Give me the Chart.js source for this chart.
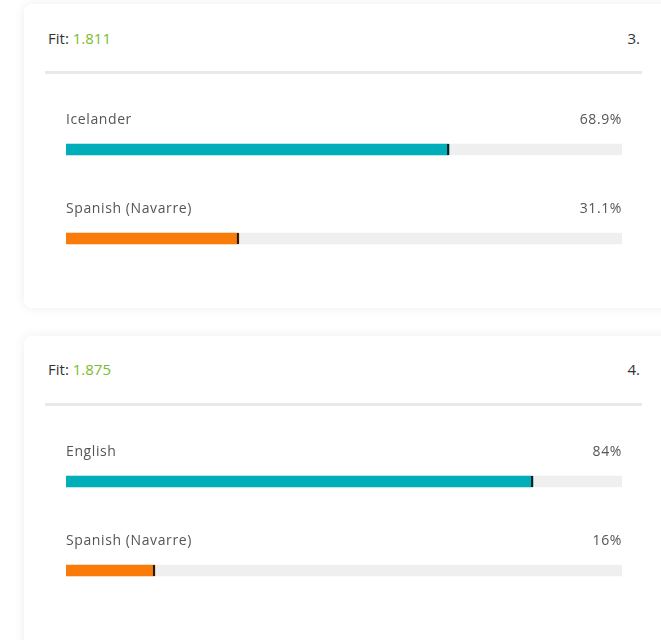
<!DOCTYPE html>
<html>
<head>
<meta charset="utf-8">
<script src="https://cdn.jsdelivr.net/npm/chart.js@4"></script>
<style>
  html, body { margin: 0; padding: 0; background: #fff; overflow: hidden; }
  body { width: 661px; height: 640px; position: relative; font-family: "Open Sans", sans-serif; }
  .card {
    position: absolute; left: 24px; width: 680px; background: #fff;
    border-radius: 8px; box-shadow: 0 0 12px rgba(0, 0, 0, 0.07);
  }
  .fit { position: absolute; left: 48px; font-size: 15px; color: #333; line-height: 20px; }
  .fit span { color: #7cbb2e; }
  .rank { position: absolute; right: 21px; font-size: 15px; color: #333; line-height: 20px; }
  .divider { position: absolute; left: 45px; width: 597px; height: 3px; background: #e9e9e9; }
  .chart { position: absolute; left: 66px; width: 556px; height: 178px; }
</style>
</head>
<body>
<div class="card" style="top:4px;height:304px"></div>
<div class="card" style="top:336px;height:330px"></div>

<div class="fit" style="top:28px">Fit: <span id="fit1"></span></div>
<div class="rank" style="top:28px" id="rank1"></div>
<div class="divider" style="top:71px"></div>
<div class="chart" style="top:105px"><canvas id="chart1" width="556" height="178"></canvas></div>

<div class="fit" style="top:359px">Fit: <span id="fit2"></span></div>
<div class="rank" style="top:359px" id="rank2"></div>
<div class="divider" style="top:403px"></div>
<div class="chart" style="top:437px"><canvas id="chart2" width="556" height="178"></canvas></div>

<script>
  // card 3
  const fit1 = '1.811';
  const rank1 = '3.';
  const labels1 = ['Icelander', 'Spanish (Navarre)'];
  const values1 = [68.9, 31.1];

  // card 4
  const fit2 = '1.875';
  const rank2 = '4.';
  const labels2 = ['English', 'Spanish (Navarre)'];
  const values2 = [84, 16];

  const trackMax = 100;
  const barColors = ['#00aeb9', '#f97c0a'];

  // draws the name / percent above each bar and the black end marker
  const barLabels = {
    id: 'barLabels',
    afterDatasetsDraw(chart) {
      const ctx = chart.ctx;
      const area = chart.chartArea;
      const meta = chart.getDatasetMeta(1);
      const vals = chart.data.datasets[1].data;
      ctx.save();
      meta.data.forEach((bar, i) => {
        const h = bar.height;
        ctx.fillStyle = '#1a1a1a';
        ctx.fillRect(bar.x - 2, bar.y - h / 2, 2, h);

        ctx.font = '14px "Open Sans", sans-serif';
        ctx.letterSpacing = '0.6px';
        ctx.fillStyle = '#555';
        ctx.textBaseline = 'middle';
        ctx.textAlign = 'left';
        ctx.fillText(chart.data.labels[i], area.left, bar.y - 29);
        ctx.textAlign = 'right';
        ctx.fillText(vals[i] + '%', area.right, bar.y - 29);
      });
      ctx.restore();
    }
  };

  const makeChart = (id, labels, values) => {
    new Chart(document.getElementById(id), {
      type: 'bar',
      data: {
        labels: labels,
        datasets: [
          {
            data: labels.map(() => trackMax),
            backgroundColor: '#efefef',
            barThickness: 11,
            borderRadius: 1,
            borderSkipped: false,
            grouped: false,
            order: 2
          },
          {
            data: values,
            backgroundColor: barColors,
            barThickness: 11,
            borderRadius: 1,
            borderSkipped: false,
            grouped: false,
            order: 1
          }
        ]
      },
      options: {
        indexAxis: 'y',
        responsive: false,
        animation: false,
        layout: { padding: 0 },
        plugins: { legend: { display: false }, tooltip: { enabled: false } },
        scales: {
          x: { min: 0, max: trackMax, display: false },
          y: { display: false }
        }
      },
      plugins: [barLabels]
    });
  };

  document.getElementById('fit1').textContent = fit1;
  document.getElementById('rank1').textContent = rank1;
  document.getElementById('fit2').textContent = fit2;
  document.getElementById('rank2').textContent = rank2;

  makeChart('chart1', labels1, values1);
  makeChart('chart2', labels2, values2);
</script>
</body>
</html>
